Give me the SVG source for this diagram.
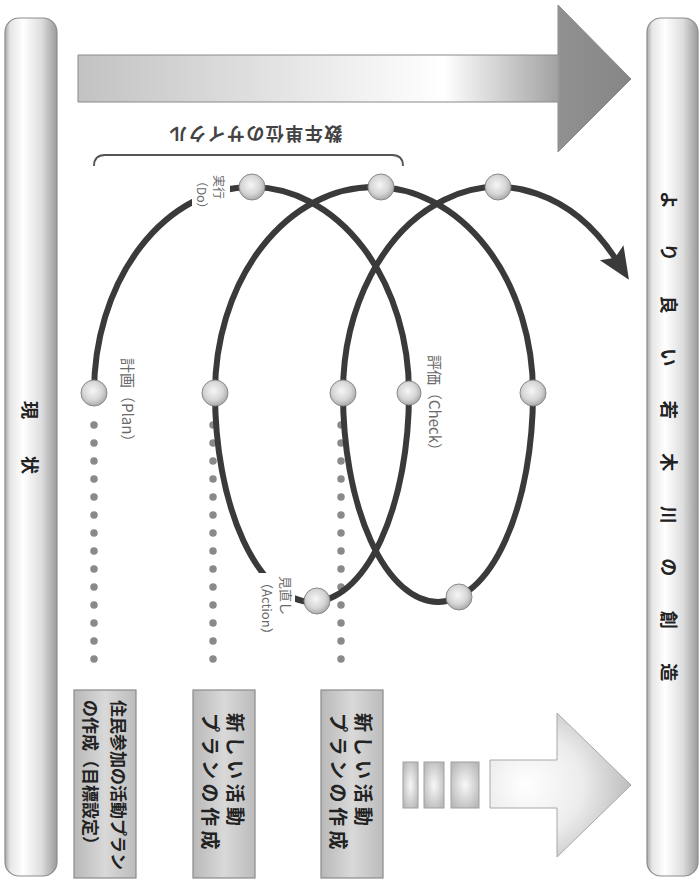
<svg xmlns="http://www.w3.org/2000/svg" width="699" height="879" viewBox="0 0 699 879">
<defs>
  <style>
    text, tspan { font-family: "Noto Sans CJK JP", "Noto Sans CJK SC", sans-serif; dominant-baseline: central; }
    .bar { fill: url(#barG); stroke: #8c8c8c; stroke-width: 1.2; }
    .barText { font-size: 18px; font-weight: bold; fill: #222; }
    .ball { fill: url(#ballG); stroke: #8a8a8a; stroke-width: 1; }
    .box { fill: url(#boxG); stroke: #8a8a8a; stroke-width: 1.2; }
    .boxText { font-weight: bold; fill: #222; }
    .lbl { fill: #6a6a6a; }
    .spiral { fill: none; stroke: #3a3a3a; stroke-width: 6; stroke-linecap: round; }
    .dots { fill: none; stroke: #8a8a8a; stroke-width: 7.5; stroke-linecap: round; stroke-dasharray: 0 18; }
    .knock { fill: #ffffff; }
  </style>
  <linearGradient id="barG" x1="0" y1="0" x2="1" y2="0">
    <stop offset="0" stop-color="#a8a8a8"/>
    <stop offset="0.1" stop-color="#e6e6e6"/>
    <stop offset="0.35" stop-color="#ffffff"/>
    <stop offset="0.7" stop-color="#dedede"/>
    <stop offset="1" stop-color="#9a9a9a"/>
  </linearGradient>
  <linearGradient id="topArrowG" gradientUnits="userSpaceOnUse" x1="78" y1="0" x2="632" y2="0">
    <stop offset="0" stop-color="#c2c2c2"/>
    <stop offset="0.66" stop-color="#ffffff"/>
    <stop offset="0.865" stop-color="#a2a2a2"/>
    <stop offset="0.87" stop-color="#909090"/>
    <stop offset="1" stop-color="#868686"/>
  </linearGradient>
  <radialGradient id="botArrowG" gradientUnits="userSpaceOnUse" cx="540" cy="785" r="100" fx="525" fy="785">
    <stop offset="0" stop-color="#ffffff"/>
    <stop offset="0.5" stop-color="#ececec"/>
    <stop offset="1" stop-color="#b4b4b4"/>
  </radialGradient>
  <radialGradient id="blockG" cx="0.5" cy="0.5" r="0.6">
    <stop offset="0" stop-color="#f8f8f8"/>
    <stop offset="1" stop-color="#bababa"/>
  </radialGradient>
  <radialGradient id="ballG" cx="0.45" cy="0.42" r="0.6">
    <stop offset="0" stop-color="#f6f6f6"/>
    <stop offset="0.6" stop-color="#d6d6d6"/>
    <stop offset="1" stop-color="#a6a6a6"/>
  </radialGradient>
  <linearGradient id="boxG" x1="0" y1="0" x2="1" y2="0">
    <stop offset="0" stop-color="#b8b8b8"/>
    <stop offset="0.5" stop-color="#d9d9d9"/>
    <stop offset="1" stop-color="#bcbcbc"/>
  </linearGradient>
  <marker id="head" markerUnits="userSpaceOnUse" markerWidth="34" markerHeight="30" refX="8" refY="14" orient="auto">
    <path d="M0,0 L32,14 L0,28 L6,14 z" fill="#3a3a3a"/>
  </marker>
</defs>

<rect width="699" height="879" fill="#ffffff"/>

<g id="bar-current">
  <rect class="bar" x="5" y="18" width="52" height="858" rx="14"/>
  <text class="barText" transform="translate(31,401) rotate(90)" letter-spacing="37">現状</text>
</g>

<g id="bar-goal">
  <rect class="bar" x="647" y="18" width="51" height="858" rx="14"/>
  <text class="barText" transform="translate(670,191) rotate(90)" letter-spacing="34.5">より良い若木川の創造</text>
</g>

<g id="arrow-top">
  <polygon points="78,55 558,55 558,5 631,79 558,152 558,102 78,102" fill="url(#topArrowG)" stroke="#8a8a8a" stroke-width="1"/>
</g>

<g id="arrow-bottom">
  <rect x="403" y="762" width="15" height="46" fill="url(#blockG)" stroke="#a0a0a0" stroke-width="1"/>
  <rect x="424" y="762" width="20" height="46" fill="url(#blockG)" stroke="#a0a0a0" stroke-width="1"/>
  <rect x="451" y="762" width="28" height="46" fill="url(#blockG)" stroke="#a0a0a0" stroke-width="1"/>
  <polygon points="490,760 557,760 557,713 631,785 557,857 557,808 490,808" fill="url(#botArrowG)" stroke="#a8a8a8" stroke-width="1"/>
</g>

<g id="bracket">
  <path d="M94,166 Q94,155 105,155 L392,155 Q403,155 403,166" fill="none" stroke="#555" stroke-width="1.8"/>
  <text transform="translate(255,135) rotate(180)" text-anchor="middle" font-size="18" font-weight="bold" fill="#444" letter-spacing="1.5">数年単位のサイクル</text>
</g>

<g id="connectors">
  <line class="dots" x1="94" y1="425" x2="94" y2="677"/>
  <line class="dots" x1="213" y1="425" x2="213" y2="677"/>
  <line class="dots" x1="341" y1="425" x2="341" y2="677"/>
  <path class="spiral" marker-end="url(#head)" d="M94,393 A157.5,206 0 0 1 409,393 A97,209 0 0 1 215,393 A159,206 0 0 1 533,393 A95,209 0 0 1 343,393 A155,206 0 0 1 616,259.5"/>
</g>

<g id="label-do">
  <rect class="knock" x="192" y="171" width="38" height="44"/>
  <text class="lbl" font-size="12" transform="translate(220,175) rotate(90)"><tspan x="0" y="0">実行</tspan><tspan x="0" y="17">（Do）</tspan></text>
</g>
<g id="label-action">
  <rect class="knock" x="259" y="573" width="36" height="66"/>
  <text class="lbl" font-size="13" transform="translate(287,576) rotate(90)"><tspan x="0" y="0">見直し</tspan><tspan x="0" y="19">（Action）</tspan></text>
</g>
<g id="label-plan">
  <text class="lbl" font-size="15" transform="translate(128,358) rotate(90)">計画（Plan）</text>
</g>
<g id="label-check">
  <text class="lbl" font-size="15" transform="translate(435,355) rotate(90)">評価（Check）</text>
</g>

<g id="ball-plan"><circle class="ball" cx="94" cy="393" r="13"/></g>
<g id="ball-do"><circle class="ball" cx="252" cy="187" r="13"/></g>
<g id="ball-check"><circle class="ball" cx="409" cy="393" r="12"/></g>
<g id="ball-action"><circle class="ball" cx="317" cy="601" r="13"/></g>
<g id="ball-2-left"><circle class="ball" cx="215" cy="393" r="13"/></g>
<g id="ball-2-top"><circle class="ball" cx="381" cy="187" r="13"/></g>
<g id="ball-2-right"><circle class="ball" cx="533" cy="393" r="13"/></g>
<g id="ball-2-bottom"><circle class="ball" cx="459" cy="597" r="13"/></g>
<g id="ball-3-left"><circle class="ball" cx="343" cy="393" r="13"/></g>
<g id="ball-3-top"><circle class="ball" cx="498" cy="187" r="13"/></g>

<g id="box-1">
  <rect class="box" x="74" y="690" width="62" height="188"/>
  <text class="boxText" font-size="17" transform="translate(120,700) rotate(90)"><tspan x="0" y="0">住民参加の活動プラン</tspan><tspan x="0" y="28">の作成（目標設定）</tspan></text>
</g>
<g id="box-2">
  <rect class="box" x="193" y="690" width="62" height="188"/>
  <text class="boxText" font-size="19" letter-spacing="4.5" transform="translate(237,713) rotate(90)"><tspan x="0" y="0">新しい活動</tspan><tspan x="0" y="25">プランの作成</tspan></text>
</g>
<g id="box-3">
  <rect class="box" x="321" y="690" width="62" height="188"/>
  <text class="boxText" font-size="19" letter-spacing="4.5" transform="translate(365,713) rotate(90)"><tspan x="0" y="0">新しい活動</tspan><tspan x="0" y="25">プランの作成</tspan></text>
</g>
</svg>
